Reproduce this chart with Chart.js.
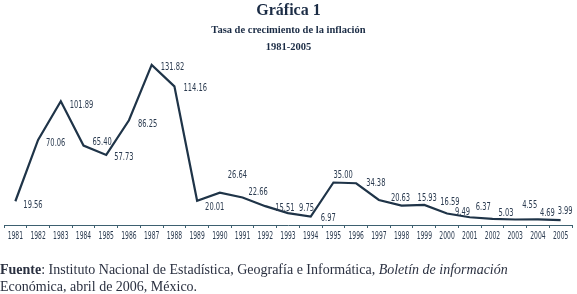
<!DOCTYPE html>
<html>
<head>
<meta charset="utf-8">
<script src="https://cdn.jsdelivr.net/npm/chart.js@4/dist/chart.umd.min.js"></script>
<style>
    html, body { margin: 0; padding: 0; background: #fff; }
    #wrap { position: relative; width: 577px; height: 294px; overflow: hidden; }
    #chart { position: absolute; left: 0; top: 0; }
    .t { position: absolute; left: 0; width: 577px; text-align: center; font-family: "Liberation Serif", serif; font-weight: bold; color: #1b2c45; white-space: nowrap; }
    #t1 { top: 1px; font-size: 16px; }
    #t2 { top: 24px; font-size: 10.5px; }
    #t3 { top: 41px; font-size: 10.5px; }
    #src { position: absolute; left: 0; top: 261px; font-family: "Liberation Serif", serif; font-size: 14px; line-height: 17px; color: #2a3040; white-space: nowrap; }
</style>
</head>
<body>
<div id="wrap">
    <canvas id="chart" width="577" height="294"></canvas>
    <div class="t" id="t1">Gráfica 1</div>
    <div class="t" id="t2">Tasa de crecimiento de la inflación</div>
    <div class="t" id="t3">1981-2005</div>
    <div id="src"><b>Fuente</b>: Instituto Nacional de Estadística, Geografía e Informática, <i>Boletín de información</i><br>Económica, abril de 2006, México.</div>
</div>
<script>
// Years on the x axis
const years = ['1981', '1982', '1983', '1984', '1985', '1986', '1987', '1988', '1989', '1990',
    '1991', '1992', '1993', '1994', '1995', '1996', '1997', '1998', '1999', '2000',
    '2001', '2002', '2003', '2004', '2005'];

// Inflation growth rate (%)
const inflation = [19.56, 70.06, 101.89, 65.40, 57.73, 86.25, 131.82, 114.16, 20.01, 26.64,
    22.66, 15.51, 9.75, 6.97, 35.00, 34.38, 20.63, 15.93, 16.59, 9.49,
    6.37, 5.03, 4.55, 4.69, 3.99];

// Where each value label sits relative to its point [dx, dy] in px
const labelOffsets = [[8, 4], [8, 3], [9, 4], [9, -3], [8, 2], [9, 4], [9, 2], [9, 2], [8, 6], [8, -18],
    [6, -5], [10, 2], [11, -5], [10, 2], [0, -7], [10, 0], [12, -2], [16, -8], [16, -3], [8, -1],
    [6, -10], [6, -6], [7, -14], [2, -6], [-3, -9]];

const ink = '#1f3448';
const textInk = '#2b3b50';
const narrowFont = '"DejaVu Sans Condensed", "DejaVu Sans", sans-serif';

// Draw squeezed text, like the narrow face of the original
function narrowText(ctx, text, x, y, squeeze, align) {
    ctx.save();
    ctx.translate(x, y);
    ctx.scale(squeeze, 1);
    ctx.textAlign = align;
    ctx.fillText(text, 0, 0);
    ctx.restore();
}

// Value labels next to each point, plus the year labels under the axis
const narrowLabels = {
    id: 'narrowLabels',
    afterDatasetsDraw(chart) {
        const ctx = chart.ctx;
        const meta = chart.getDatasetMeta(0);
        ctx.save();
        ctx.fillStyle = textInk;
        ctx.textBaseline = 'middle';

        ctx.font = '11px ' + narrowFont;
        meta.data.forEach((pt, i) => {
            const [dx, dy] = labelOffsets[i];
            narrowText(ctx, inflation[i].toFixed(2), pt.x + dx, pt.y + dy, 0.68, 'left');
        });

        const xScale = chart.scales.x;
        ctx.font = '10.5px ' + narrowFont;
        xScale.ticks.forEach((tick, i) => {
            narrowText(ctx, xScale.getLabelForValue(tick.value), xScale.getPixelForTick(i), xScale.top + 11, 0.64, 'center');
        });
        ctx.restore();
    }
};

new Chart(document.getElementById('chart'), {
    type: 'line',
    data: {
        labels: years,
        datasets: [{
            data: inflation,
            borderColor: ink,
            borderWidth: 2.2,
            pointRadius: 0,
            tension: 0,
            fill: false
        }]
    },
    options: {
        responsive: false,
        animation: false,
        layout: { padding: { top: 55, left: 4, right: 5, bottom: 49 } },
        plugins: {
            legend: { display: false },
            tooltip: { enabled: false }
        },
        scales: {
            x: {
                offset: true,
                grid: { offset: true, drawOnChartArea: false, drawTicks: true, tickLength: 3, color: '#3d6070' },
                border: { color: '#3d6070', width: 1 },
                ticks: { display: false, autoSkip: false },
                afterFit: scale => { scale.height = 20; }
            },
            y: { display: false, min: 0, max: 140 }
        }
    },
    plugins: [narrowLabels]
});
</script>
</body>
</html>
